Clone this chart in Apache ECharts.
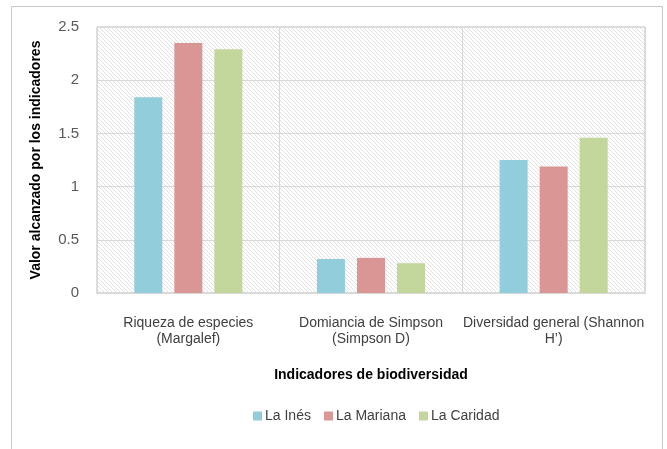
<!DOCTYPE html>
<html>
<head>
<meta charset="utf-8">
<script src="https://cdn.jsdelivr.net/npm/echarts@6/dist/echarts.min.js"></script>
<style>
  html, body { margin: 0; padding: 0; background: #fff; }
  #chart { width: 667px; height: 449px; }
</style>
</head>
<body>
<div id="chart"></div>
<script>
var categories = ['Riqueza de especies\n(Margalef)', 'Domiancia de Simpson\n(Simpson D)', 'Diversidad general (Shannon\nH\u2019)'];
var laInes = [1.84, 0.32, 1.25];
var laMariana = [2.35, 0.33, 1.19];
var laCaridad = [2.29, 0.28, 1.46];

var font = "'Liberation Sans Narrow', 'Arial Narrow', 'Liberation Sans', sans-serif";

// diagonal hatch for the plot background
var tile = document.createElement('canvas');
tile.width = 4; tile.height = 4;
var ctx = tile.getContext('2d');
ctx.fillStyle = '#ffffff';
ctx.fillRect(0, 0, 4, 4);
ctx.strokeStyle = '#e2e2e2';
ctx.lineWidth = 1;
ctx.beginPath();
ctx.moveTo(-1, -1); ctx.lineTo(5, 5);
ctx.moveTo(-1, 3); ctx.lineTo(1, 5);
ctx.moveTo(3, -1); ctx.lineTo(5, 1);
ctx.stroke();

var myChart = echarts.init(document.getElementById('chart'));
var option = {
  animation: false,
  color: ['#92CDDC', '#D99694', '#C3D69B'],
  graphic: [{
    type: 'rect',
    shape: { x: 11.5, y: 6.5, width: 651, height: 460 },
    style: { fill: 'none', stroke: '#c8c8c8', lineWidth: 1 },
    silent: true
  }],
  grid: {
    left: 97, right: 22, top: 27, bottom: 156,
    show: true,
    backgroundColor: { image: tile, repeat: 'repeat' },
    borderColor: '#bfbfbf',
    borderWidth: 1
  },
  legend: {
    bottom: 21,
    left: 248,
    itemWidth: 9, itemHeight: 9,
    itemGap: 13,
    icon: 'rect',
    textStyle: { fontFamily: font, fontSize: 14, color: '#404040', padding: [0, 0, 0, -2] },
    data: ['La Inés', 'La Mariana', 'La Caridad']
  },
  xAxis: {
    type: 'category',
    data: categories,
    name: 'Indicadores de biodiversidad',
    nameLocation: 'middle',
    nameGap: 75,
    nameTextStyle: { fontFamily: font, fontSize: 14, fontWeight: 'bold', color: '#000' },
    axisTick: { show: false },
    axisLine: { lineStyle: { color: '#d9d9d9', width: 2 } },
    axisLabel: { fontFamily: font, fontSize: 14, color: '#404040', margin: 22, lineHeight: 16, interval: 0 },
    splitLine: { show: true, lineStyle: { color: '#d9d9d9' } }
  },
  yAxis: {
    type: 'value',
    min: 0, max: 2.5, interval: 0.5,
    name: 'Valor alcanzado por los indicadores',
    nameLocation: 'middle',
    nameGap: 54,
    nameTextStyle: { fontFamily: font, fontSize: 14, fontWeight: 'bold', color: '#000' },
    axisLine: { show: false },
    axisTick: { show: false },
    axisLabel: { fontFamily: font, fontSize: 15, color: '#595959', margin: 18 },
    splitLine: { lineStyle: { color: '#d9d9d9' } }
  },
  series: [
    { name: 'La Inés', type: 'bar', data: laInes, barWidth: 28, barGap: '43%' },
    { name: 'La Mariana', type: 'bar', data: laMariana, barWidth: 28, barGap: '43%' },
    { name: 'La Caridad', type: 'bar', data: laCaridad, barWidth: 28, barGap: '43%' }
  ]
};
myChart.setOption(option);
</script>
</body>
</html>
